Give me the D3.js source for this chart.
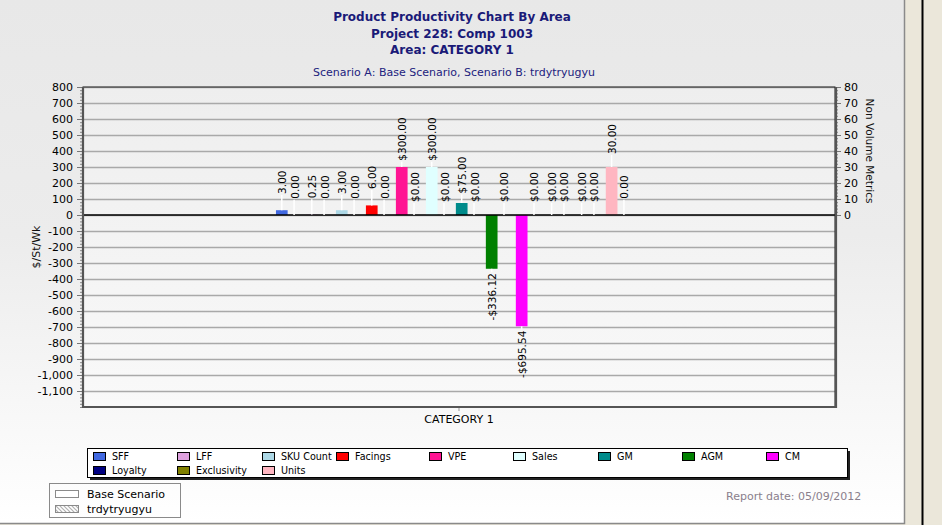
<!DOCTYPE html>
<html>
<head>
<meta charset="utf-8">
<script src="https://cdn.jsdelivr.net/npm/d3@7"></script>
<style>
  body { margin: 0; background: #ebe7da; }
  svg { display: block; font-family: 'DejaVu Sans', Verdana, sans-serif; }
</style>
</head>
<body>
<svg id="chart" width="942" height="525"></svg>
<script>
// chart data
const titleLines = ['Product Productivity Chart By Area', 'Project 228: Comp 1003', 'Area: CATEGORY 1'];
const subtitle = 'Scenario A: Base Scenario, Scenario B: trdytryugyu';
const categories = ['CATEGORY 1'];
const series = ['SFF', 'LFF', 'SKU Count', 'Facings', 'VPE', 'Sales', 'GM', 'AGM', 'CM', 'Loyalty', 'Exclusivity', 'Units'];
const seriesColors = ['#4169e1', '#dda0dd', '#add8e6', '#ff0000', '#ff1493', '#e0ffff', '#008b8b', '#008000', '#ff00ff', '#000080', '#808000', '#ffb6c1'];
// 'nv' series go on the right (Non Volume Metrics) axis, '$' ones on the left
const seriesAxis = ['nv', 'nv', 'nv', 'nv', '$', '$', '$', '$', '$', '$', '$', 'nv'];
const scenarioNames = ['Base Scenario', 'trdytryugyu'];
const scenarioA = [3, 0.25, 3, 6, 300, 300, 75, -336.12, -695.54, 0, 0, 30];
const scenarioB = [0, 0, 0, 0, 0, 0, 0, 0, 0, 0, 0, 0];
const leftTicks = [800, 700, 600, 500, 400, 300, 200, 100, 0, -100, -200, -300, -400, -500, -600, -700, -800, -900, -1000, -1100];
const rightTicks = [0, 10, 20, 30, 40, 50, 60, 70, 80];
const leftTitle = '$/St/Wk';
const rightTitle = 'Non Volume Metrics';
const reportDate = 'Report date: 05/09/2012';

const svg = d3.select('#chart');
const panelW = 904, panelH = 523;
const plot = { left: 83, right: 835, top: 87, bottom: 407 };

const locale = d3.formatLocale({
  decimal: '.', thousands: ',', grouping: [3], currency: ['$', ''], minus: '-'
});
const fmtTick = locale.format(',');
const fmtMoney = locale.format('$,.2f');
const fmtNum = locale.format(',.2f');

const defs = svg.append('defs');
const bgGrad = defs.append('linearGradient').attr('id', 'bgGrad')
  .attr('x1', 0).attr('y1', 0).attr('x2', 0).attr('y2', 1);
bgGrad.append('stop').attr('offset', '0%').attr('stop-color', '#e8e8e8');
bgGrad.append('stop').attr('offset', '45%').attr('stop-color', '#ececec');
bgGrad.append('stop').attr('offset', '100%').attr('stop-color', '#ffffff');

const plotGrad = defs.append('linearGradient').attr('id', 'plotGrad')
  .attr('x1', 0).attr('y1', 0).attr('x2', 0).attr('y2', 1);
plotGrad.append('stop').attr('offset', '0%').attr('stop-color', '#eeeeee');
plotGrad.append('stop').attr('offset', '100%').attr('stop-color', '#f9f9f9');

const hatch = defs.append('pattern').attr('id', 'hatch')
  .attr('patternUnits', 'userSpaceOnUse').attr('width', 4).attr('height', 4);
hatch.append('rect').attr('width', 4).attr('height', 4).attr('fill', '#ffffff');
hatch.append('path').attr('d', 'M-1,-1 L5,5 M-1,3 L1,5 M3,-1 L5,1')
  .attr('stroke', '#b0b0b0').attr('stroke-width', 1.2);

// page panel
svg.append('rect').attr('x', 0).attr('y', 0).attr('width', panelW).attr('height', panelH)
  .attr('fill', 'url(#bgGrad)');
svg.append('path').attr('d', `M${panelW + 0.5},0 V${panelH + 0.5} H0`)
  .attr('fill', 'none').attr('stroke', '#8a8a8a').attr('stroke-width', 1.5);
svg.append('line').attr('x1', 922.5).attr('x2', 922.5).attr('y1', 0).attr('y2', 525)
  .attr('stroke', '#000').attr('stroke-width', 2);

// titles
svg.selectAll('.title').data(titleLines).enter().append('text')
  .attr('class', 'title')
  .attr('x', 452).attr('y', (d, i) => 21 + i * 16.5)
  .attr('text-anchor', 'middle')
  .style('font-size', '12px').style('font-weight', 'bold').attr('fill', '#1a1a78')
  .text(d => d);
svg.append('text').attr('x', 454).attr('y', 76).attr('text-anchor', 'middle')
  .style('font-size', '11px').attr('fill', '#22227e').text(subtitle);

// scales
const yL = d3.scaleLinear().domain([-1200, 800]).range([plot.bottom, plot.top]);
const yR = d3.scaleLinear().domain([-120, 80]).range([plot.bottom, plot.top]);
const yFor = i => (seriesAxis[i] === 'nv' ? yR : yL);

const x0 = d3.scaleBand().domain(categories).range([plot.left, plot.right])
  .paddingInner(0).paddingOuter(0.545).align(0.492);
const x1 = d3.scaleBand().domain(series).range([0, x0.bandwidth()]);
const x2 = d3.scaleBand().domain(scenarioNames).range([0, x1.bandwidth() * 0.8]).paddingInner(0.05);

// plot background
svg.append('rect')
  .attr('x', plot.left).attr('y', plot.top)
  .attr('width', plot.right - plot.left).attr('height', plot.bottom - plot.top)
  .attr('fill', 'url(#plotGrad)');

// grid
svg.append('g')
  .attr('transform', `translate(${plot.left},0)`)
  .call(d3.axisLeft(yL).tickValues(leftTicks).tickSize(-(plot.right - plot.left)).tickFormat(''))
  .call(g => g.select('.domain').remove())
  .call(g => g.selectAll('line').attr('stroke', '#a9a9a9').attr('stroke-width', 1.3));

// bars
const bars = [];
series.forEach((s, i) => {
  [scenarioA[i], scenarioB[i]].forEach((v, k) => {
    bars.push({ s, i, k, v, scen: scenarioNames[k] });
  });
});

const catX = x0(categories[0]);
const gBars = svg.append('g');
gBars.selectAll('rect').data(bars).enter().append('rect')
  .attr('x', d => catX + x1(d.s) + x2(d.scen))
  .attr('width', x2.bandwidth())
  .attr('y', d => Math.min(yFor(d.i)(d.v), yFor(d.i)(0)))
  .attr('height', d => Math.abs(yFor(d.i)(d.v) - yFor(d.i)(0)))
  .attr('fill', d => (d.k === 0 ? seriesColors[d.i] : 'url(#hatch)'));

// zero line
svg.append('line')
  .attr('x1', plot.left).attr('x2', plot.right)
  .attr('y1', yL(0)).attr('y2', yL(0))
  .attr('stroke', '#000').attr('stroke-width', 1.5);

// value labels with white leader lines
const labelOffset = 28;
const gLab = svg.append('g');
bars.forEach(d => {
  const y = yFor(d.i);
  const cx = catX + x1(d.s) + x2(d.scen) + x2.bandwidth() / 2;
  const yEnd = y(d.v);
  const dir = d.v < 0 ? 1 : -1;
  const txt = seriesAxis[d.i] === 'nv' ? fmtNum(d.v) : fmtMoney(d.v);
  const cy = yEnd + dir * labelOffset;
  const t = gLab.append('text')
    .attr('transform', `translate(${cx + 0.5},${cy}) rotate(-90)`)
    .attr('text-anchor', 'middle')
    .attr('dominant-baseline', 'central')
    .style('font-size', '10.5px').attr('fill', '#000')
    .text(txt);
  const half = t.node().getComputedTextLength() / 2;
  const len = labelOffset - half - 1;
  if (len > 0) {
    gLab.insert('line', 'text')
      .attr('x1', cx).attr('x2', cx)
      .attr('y1', yEnd).attr('y2', yEnd + dir * len)
      .attr('stroke', '#ffffff').attr('stroke-width', 1.5);
  }
});

// axes
const gL = svg.append('g').attr('transform', `translate(${plot.left},0)`);
gL.call(d3.axisLeft(yL).tickValues(d3.range(-1200, 801, 20)).tickSize(3).tickFormat(''))
  .call(g => g.select('.domain').remove())
  .call(g => g.selectAll('line').attr('stroke', '#888'));
gL.append('g')
  .call(d3.axisLeft(yL).tickValues(leftTicks).tickSize(6).tickPadding(4).tickFormat(fmtTick))
  .call(g => g.select('.domain').remove())
  .call(g => g.selectAll('line').attr('stroke', '#777'))
  .call(g => g.selectAll('text').style('font-size', '11px').style('font-family', 'DejaVu Sans').attr('fill', '#000'));

const gR = svg.append('g').attr('transform', `translate(${plot.right},0)`);
gR.call(d3.axisRight(yR).tickValues(d3.range(0, 81, 2)).tickSize(3).tickFormat(''))
  .call(g => g.select('.domain').remove())
  .call(g => g.selectAll('line').attr('stroke', '#888'));
gR.append('g')
  .call(d3.axisRight(yR).tickValues(rightTicks).tickSize(6).tickPadding(3).tickFormat(fmtTick))
  .call(g => g.select('.domain').remove())
  .call(g => g.selectAll('line').attr('stroke', '#777'))
  .call(g => g.selectAll('text').style('font-size', '11px').style('font-family', 'DejaVu Sans').attr('fill', '#000'));

// x axis category tick and label (centred on the plot)
const xCat = d3.scaleBand().domain(categories).range([plot.left, plot.right]);
svg.append('g').attr('transform', `translate(0,${plot.bottom})`)
  .call(d3.axisBottom(xCat).tickSize(4).tickPadding(4))
  .call(g => g.select('.domain').remove())
  .call(g => g.selectAll('line').attr('stroke', '#999'))
  .call(g => g.selectAll('text').style('font-size', '11px').style('font-family', 'DejaVu Sans').attr('fill', '#000'));

// plot frame
svg.append('rect')
  .attr('x', plot.left).attr('y', plot.top)
  .attr('width', plot.right - plot.left).attr('height', plot.bottom - plot.top)
  .attr('fill', 'none').attr('stroke', '#222').attr('stroke-width', 1);
svg.append('path')
  .attr('d', `M${plot.left},${plot.top} V${plot.bottom} H${plot.right + 1} V${plot.top}`)
  .attr('fill', 'none').attr('stroke', '#555').attr('stroke-width', 2.2);

// axis titles
svg.append('text')
  .attr('transform', `translate(36,${(plot.top + plot.bottom) / 2}) rotate(-90)`)
  .attr('text-anchor', 'middle').attr('dominant-baseline', 'central')
  .style('font-size', '11px').attr('fill', '#111').text(leftTitle);
svg.append('text')
  .attr('transform', `translate(870,${(yR(0) + yR(80)) / 2}) rotate(90)`)
  .attr('text-anchor', 'middle').attr('dominant-baseline', 'central')
  .style('font-size', '10.5px').attr('fill', '#111').text(rightTitle);

// series legend
const legendBox = { x: 87, y: 448, w: 760, h: 29 };
const legendColX = [93, 177, 262, 336, 429, 513, 598, 682, 766];
const legendRowY = [452, 466];
svg.append('rect')
  .attr('x', legendBox.x + 3).attr('y', legendBox.y + 3)
  .attr('width', legendBox.w).attr('height', legendBox.h).attr('fill', '#222');
svg.append('rect')
  .attr('x', legendBox.x + 0.5).attr('y', legendBox.y + 0.5)
  .attr('width', legendBox.w).attr('height', legendBox.h)
  .attr('fill', '#fff').attr('stroke', '#000');
const leg = svg.append('g').selectAll('g').data(series).enter().append('g')
  .attr('transform', (d, i) => `translate(${legendColX[i % 9]},${legendRowY[Math.floor(i / 9)]})`);
leg.append('rect').attr('x', 0.5).attr('y', 0.5).attr('width', 12).attr('height', 8)
  .attr('fill', (d, i) => seriesColors[i]).attr('stroke', '#000');
leg.append('text').attr('x', 19).attr('y', 4.5).attr('dominant-baseline', 'central')
  .style('font-size', '9.6px').attr('fill', '#000').text(d => d);

// scenario legend
svg.append('rect').attr('x', 49.5).attr('y', 483.5).attr('width', 131).attr('height', 34)
  .attr('fill', 'none').attr('stroke', '#8a8a8a');
const sl = svg.append('g').selectAll('g').data(scenarioNames).enter().append('g')
  .attr('transform', (d, i) => `translate(55,${490 + i * 15})`);
sl.append('rect').attr('x', 0.5).attr('y', 0.5).attr('width', 23).attr('height', 7)
  .attr('fill', (d, i) => (i === 0 ? '#fff' : 'url(#hatch)')).attr('stroke', '#8a8a8a');
sl.append('text').attr('x', 32).attr('y', 4).attr('dominant-baseline', 'central')
  .style('font-size', '11px').attr('fill', '#000').text(d => d);

svg.append('text').attr('x', 726).attr('y', 496).attr('dominant-baseline', 'central')
  .style('font-size', '11px').attr('fill', '#8a7f8c').text(reportDate);
</script>
</body>
</html>
